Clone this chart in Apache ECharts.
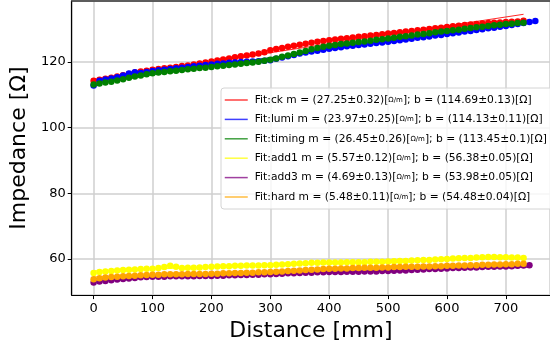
<!DOCTYPE html>
<html><head><meta charset="utf-8">
<script src="https://cdn.jsdelivr.net/npm/echarts@6/dist/echarts.min.js"></script>
<style>html,body{margin:0;padding:0;background:#fff}#c{width:550px;height:347px}</style>
</head><body><div id="c"></div>
<script>
// Distance positions [mm]
const distance = [0,10,20,30,40,50,60,70,80,90,100,110,120,130,140,150,160,170,180,190,200,210,220,230,240,250,260,270,280,290,300,310,320,330,340,350,360,370,380,390,400,410,420,430,440,450,460,470,480,490,500,510,520,530,540,550,560,570,580,590,600,610,620,630,640,650,660,670,680,690,700,710,720,730,740,750];

const ck = [114.3,114.6,114.9,115.2,115.6,116.0,116.4,116.8,117.1,117.4,117.7,117.9,118.1,118.3,118.5,118.8,119.0,119.3,119.6,119.9,120.2,120.5,120.8,121.1,121.5,121.8,122.0,122.3,122.6,123.0,123.6,124.0,124.3,124.7,125.0,125.3,125.6,125.9,126.2,126.4,126.7,126.9,127.1,127.3,127.5,127.7,127.9,128.1,128.3,128.5,128.7,128.9,129.1,129.3,129.5,129.7,129.9,130.1,130.3,130.5,130.7,130.9,131.1,131.3,131.5,131.6,131.8,131.9,132.0,132.1,132.2,132.3,132.4,132.6];
const lumi = [112.9,114.3,114.7,115.0,115.4,115.9,116.5,116.9,116.7,117.0,117.3,117.5,117.7,117.9,118.1,118.3,118.5,118.7,118.9,119.1,119.3,119.5,119.6,119.8,119.9,120.0,120.1,120.2,120.3,120.4,120.6,121.0,121.4,121.8,122.2,122.6,122.9,123.2,123.5,123.8,124.1,124.3,124.5,124.8,125.0,125.2,125.4,125.6,125.8,126.0,126.2,126.4,126.7,126.9,127.1,127.4,127.6,127.8,128.1,128.3,128.6,128.8,129.0,129.3,129.5,129.8,130.0,130.3,130.5,130.8,131.0,131.3,131.6,131.9,132.2,132.5];
const timing = [113.2,113.5,113.8,114.0,114.4,114.8,115.2,115.6,115.9,116.3,116.6,116.8,117.0,117.2,117.4,117.6,117.8,118.0,118.2,118.3,118.5,118.7,118.9,119.1,119.3,119.5,119.7,119.9,120.1,120.4,120.7,121.1,121.6,122.0,122.5,122.9,123.4,123.9,124.3,124.7,125.0,125.2,125.5,125.7,125.9,126.1,126.3,126.5,126.8,127.0,127.2,127.4,127.7,127.9,128.1,128.4,128.6,128.8,129.1,129.3,129.5,129.7,129.9,130.2,130.4,130.6,130.8,131.0,131.2,131.4,131.6,131.7,131.9,132.0];
const add1 = [55.7,56.0,56.2,56.3,56.5,56.6,56.7,56.8,56.9,57.0,57.0,57.2,57.5,57.9,57.6,57.2,57.3,57.3,57.4,57.5,57.6,57.7,57.8,57.8,57.9,57.9,58.0,58.0,58.0,58.1,58.1,58.2,58.3,58.4,58.5,58.6,58.7,58.8,58.8,58.9,58.9,58.9,58.9,59.0,59.0,59.0,59.0,59.1,59.1,59.1,59.2,59.3,59.4,59.4,59.5,59.6,59.7,59.7,59.8,59.9,60.0,60.1,60.2,60.3,60.3,60.4,60.5,60.6,60.6,60.5,60.5,60.4,60.4,60.3];
const add3 = [52.8,53.1,53.3,53.5,53.7,53.9,54.0,54.2,54.4,54.5,54.6,54.6,54.6,54.7,54.7,54.7,54.7,54.7,54.8,54.8,54.8,54.9,54.9,55.0,55.0,55.1,55.1,55.2,55.2,55.3,55.3,55.4,55.5,55.6,55.6,55.7,55.8,55.8,55.9,55.9,56.0,56.0,56.0,56.1,56.1,56.1,56.2,56.2,56.2,56.3,56.3,56.4,56.5,56.5,56.6,56.7,56.8,56.9,56.9,57.0,57.1,57.2,57.2,57.3,57.4,57.4,57.5,57.6,57.6,57.7,57.7,57.8,57.9,58.0,58.1];
const hard = [53.8,54.1,54.3,54.5,54.6,54.7,54.8,54.9,55.0,55.1,55.2,55.2,55.3,55.3,55.3,55.3,55.4,55.4,55.4,55.4,55.5,55.5,55.6,55.6,55.7,55.7,55.8,55.8,55.9,55.9,56.0,56.1,56.2,56.3,56.4,56.5,56.6,56.7,56.8,56.9,57.0,57.0,57.1,57.1,57.2,57.2,57.3,57.3,57.3,57.4,57.4,57.5,57.5,57.6,57.6,57.6,57.7,57.7,57.8,57.8,57.9,57.9,58.0,58.0,58.1,58.1,58.2,58.2,58.3,58.3,58.4,58.4,58.5,58.5];

// Fit lines: names, parameters (as printed) and endpoints
const fitNames = ['Fit:ck','Fit:lumi','Fit:timing','Fit:add1','Fit:add3','Fit:hard'];
const fitM = ['27.25±0.32','23.97±0.25','26.45±0.26','5.57±0.12','4.69±0.13','5.48±0.11'];
const fitB = ['114.69±0.13','114.13±0.11','113.45±0.1','56.38±0.05','53.98±0.05','54.48±0.04'];
const fitX0 = [0,0,0,0,0,0];
const fitX1 = [730,750,730,730,740,730];
const fitY0 = [114.69,114.13,113.45,56.38,53.98,54.48];
const fitY1 = [134.58,132.11,132.76,60.45,57.45,58.48];

const colors = ['#ff0000','#0000ff','#008000','#ffff00','#800080','#ffa500'];
const measured = [ck, lumi, timing, add1, add3, hard];

const FONT = 'DejaVu Sans';
const series = [];
measured.forEach((vals, i) => {
  series.push({
    type: 'scatter', name: 'data' + i,
    data: vals.map((v, k) => [distance[k], v]),
    symbol: 'circle', symbolSize: 6.5,
    itemStyle: { color: colors[i], opacity: 1 },
    emphasis: { disabled: true }, silent: true, z: 3
  });
  series.push({
    type: 'line', name: fitNames[i],
    data: [[fitX0[i], fitY0[i]], [fitX1[i], fitY1[i]]],
    symbol: 'none', showSymbol: false,
    lineStyle: { color: colors[i], width: 1, opacity: 0.85 },
    itemStyle: { color: colors[i] },
    emphasis: { disabled: true }, silent: true, z: 3
  });
});

const chart = echarts.init(document.getElementById('c'), null, { renderer: 'canvas' });
chart.setOption({
  animation: false,
  backgroundColor: '#fff',
  textStyle: { fontFamily: FONT },
  grid: { left: 70, right: 0, top: 1, bottom: 51, containLabel: false },
  legend: {
    orient: 'vertical', left: 221, top: 88,
    data: fitNames,
    selectedMode: false,
    itemWidth: 23, itemHeight: 14, itemGap: 5.4,
    padding: [5, 40, 5, 3],
    backgroundColor: 'rgba(255,255,255,0.8)',
    borderColor: '#d4d4d4', borderWidth: 1, borderRadius: 3,
    itemStyle: { opacity: 0, borderWidth: 0 },
    lineStyle: { width: 1.5, opacity: 0.75 },
    textStyle: {
      fontFamily: FONT, fontSize: 10.7, color: '#000', lineHeight: 14, padding: [0, 0, 0, 2],
      rich: { fr: { fontFamily: FONT, fontSize: 7, color: '#000' } }
    },
    formatter: function (name) {
      const i = fitNames.indexOf(name);
      return name + ' m = (' + fitM[i] + ')[{fr|Ω/m}]; b = (' + fitB[i] + ')[Ω]';
    }
  },
  xAxis: [{
    type: 'value', min: -37.2, max: 774.9, splitNumber: 8,
    name: 'Distance [mm]', nameLocation: 'middle', nameGap: 17,
    nameTextStyle: { fontFamily: FONT, fontSize: 22, color: '#000' },
    axisLine: { show: true, onZero: false, lineStyle: { color: '#000', width: 1.2 } },
    axisTick: { show: true, inside: false, length: 4, lineStyle: { color: '#000' } },
    axisLabel: { fontFamily: FONT, fontSize: 13, color: '#000', margin: 7, showMinLabel: false, showMaxLabel: false,
      formatter: v => (Math.abs(v % 100) < 1e-6 ? String(v) : '') },
    splitLine: { show: true, lineStyle: { color: '#cfcfcf', width: 1.5 } }
  }, {
    type: 'value', position: 'top', min: -37.2, max: 774.9,
    axisLine: { show: true, onZero: false, lineStyle: { color: '#333', width: 1.5 } },
    axisTick: { show: false }, axisLabel: { show: false }, splitLine: { show: false }
  }],
  yAxis: {
    type: 'value', min: 48.97, max: 138.63, splitNumber: 5,
    name: 'Impedance [Ω]', nameLocation: 'middle', nameGap: 31, nameRotate: 90,
    nameTextStyle: { fontFamily: FONT, fontSize: 22, color: '#000' },
    axisLine: { show: true, onZero: false, lineStyle: { color: '#000', width: 1.2 } },
    axisTick: { show: true, inside: false, length: 4, lineStyle: { color: '#000' } },
    axisLabel: { fontFamily: FONT, fontSize: 13, color: '#000', margin: 6, showMinLabel: false, showMaxLabel: false,
      formatter: v => (Math.abs(v % 20) < 1e-6 ? String(v) : '') },
    splitLine: { show: true, lineStyle: { color: '#cfcfcf', width: 1.5 } }
  },
  series: series
});
</script></body></html>
